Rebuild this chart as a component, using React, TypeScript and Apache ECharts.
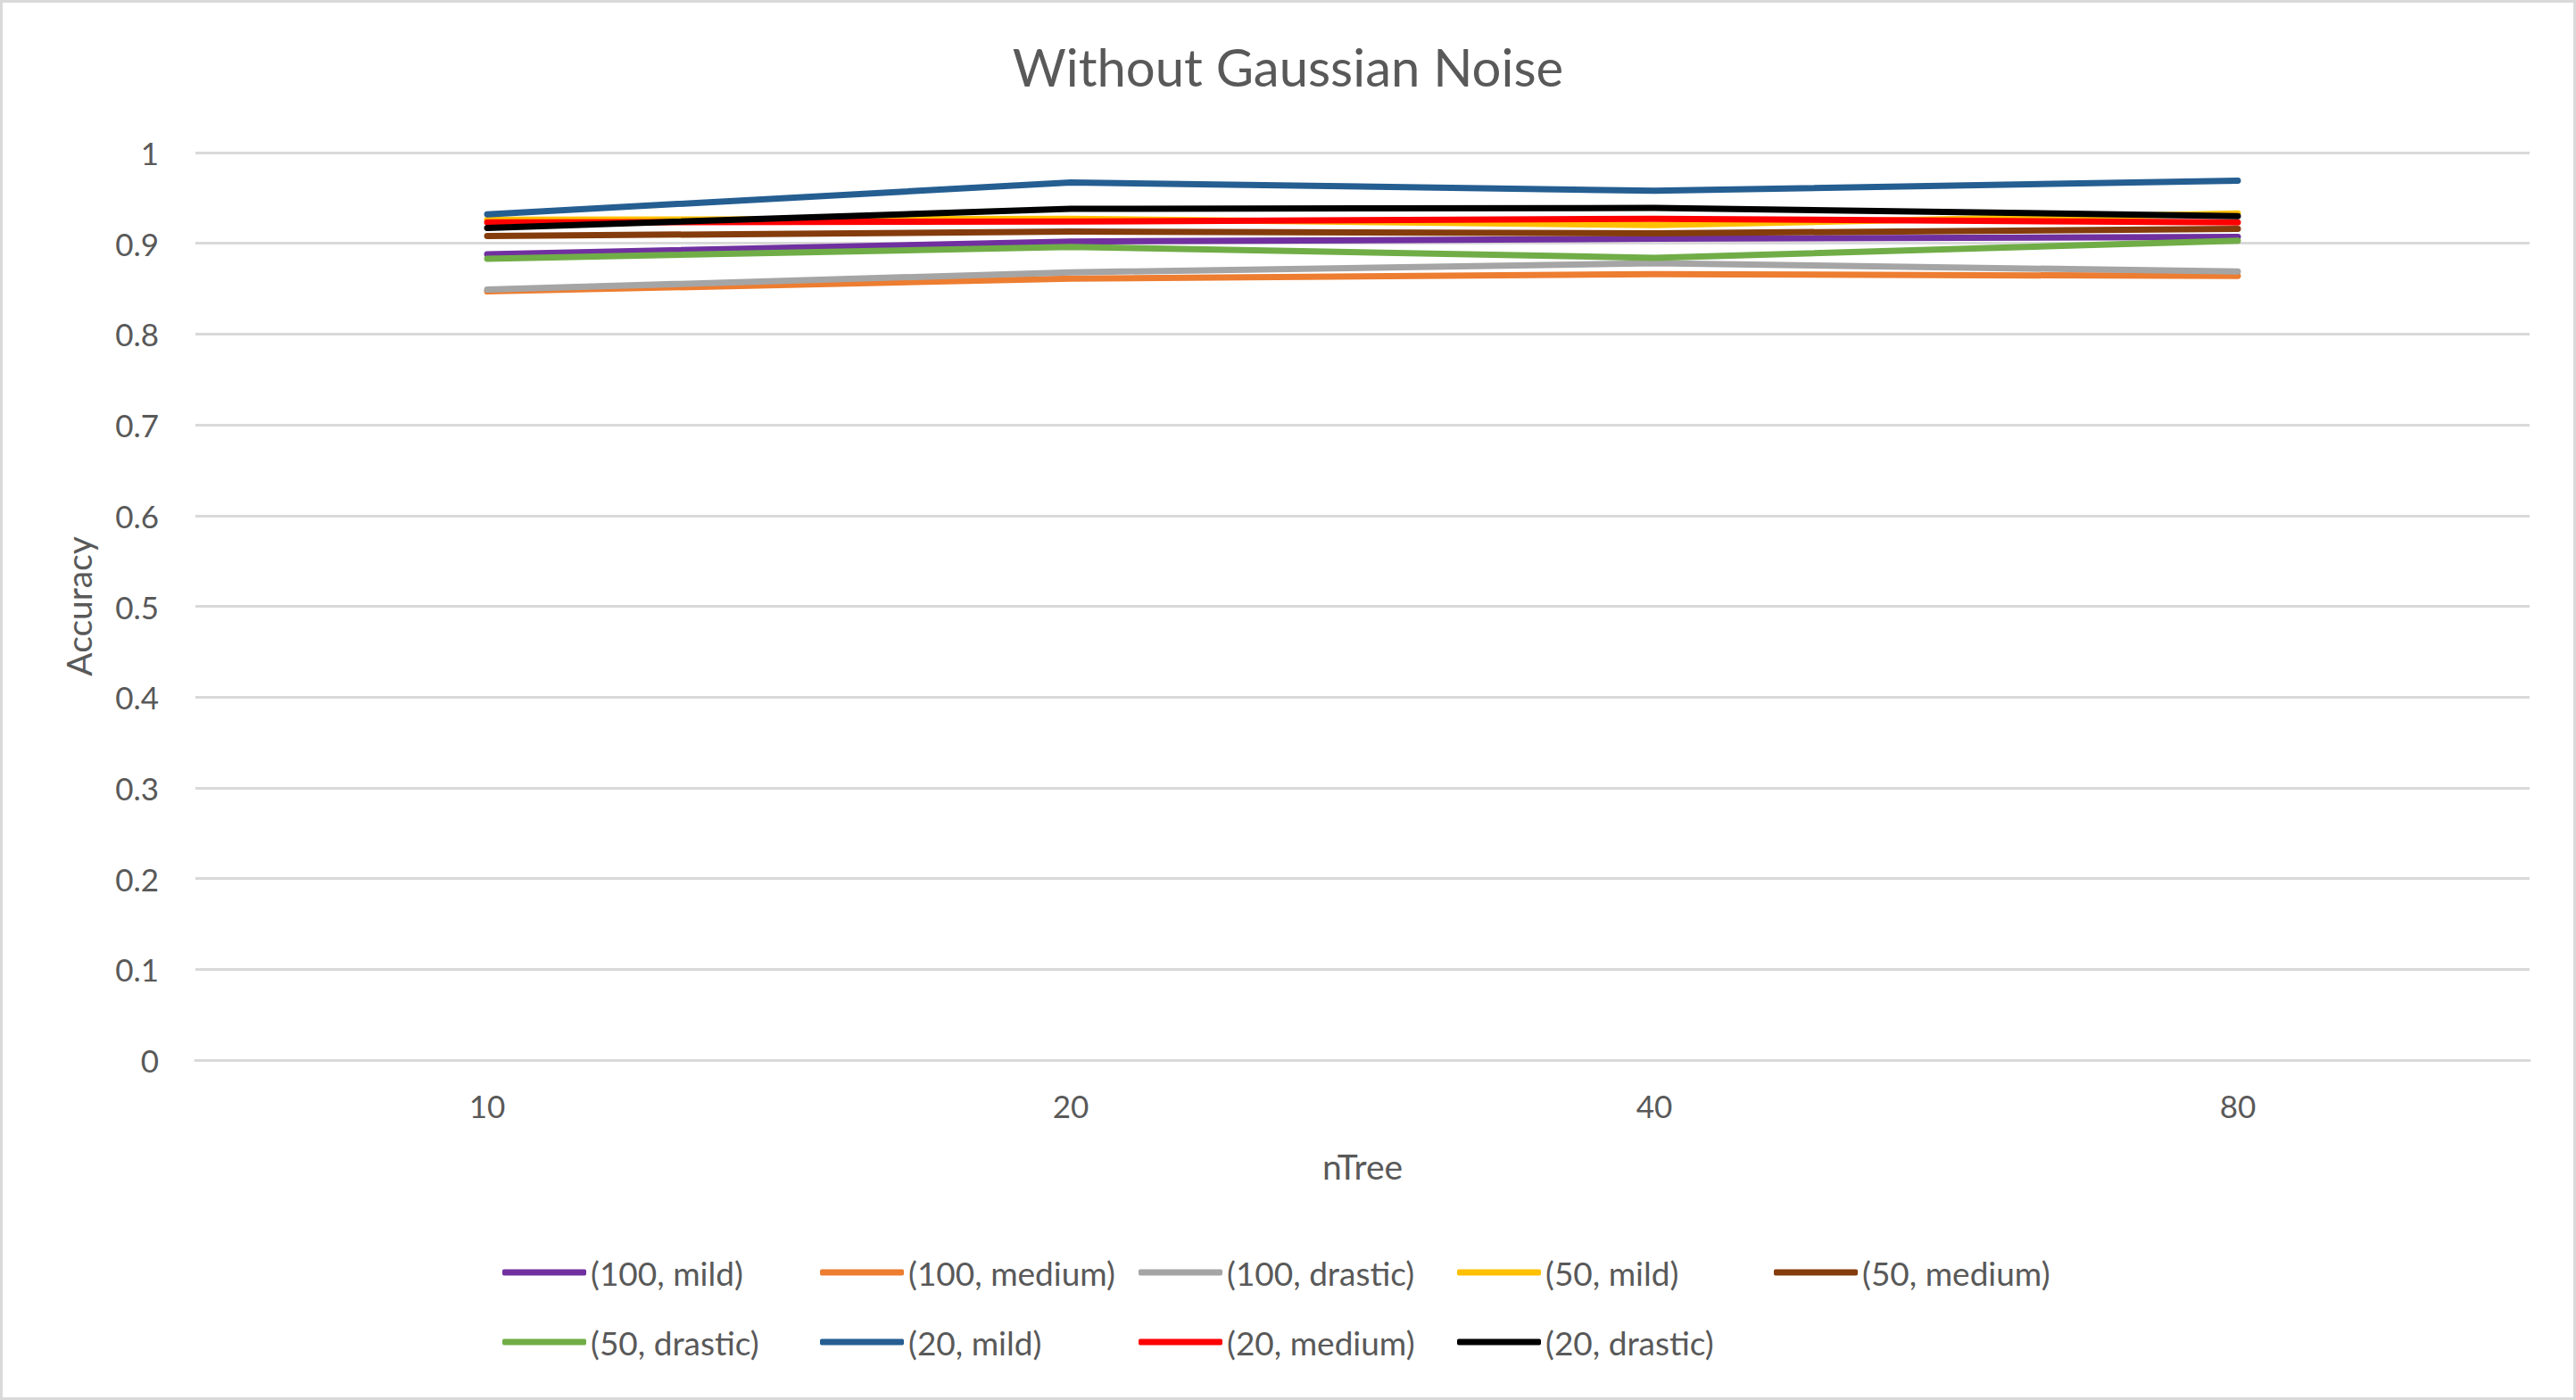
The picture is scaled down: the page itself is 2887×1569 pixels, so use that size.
import React, { useEffect, useRef } from "react";
import * as echarts from "echarts";

const categories = ["10", "20", "40", "80"];

const seriesNames = [
  "(100, mild)",
  "(100, medium)",
  "(100, drastic)",
  "(50, mild)",
  "(50, medium)",
  "(50, drastic)",
  "(20, mild)",
  "(20, medium)",
  "(20, drastic)",
];

const mild100 = [0.888, 0.902, 0.905, 0.907];
const medium100 = [0.847, 0.861, 0.866, 0.864];
const drastic100 = [0.849, 0.868, 0.878, 0.869];
const mild50 = [0.926, 0.927, 0.920, 0.933];
const medium50 = [0.908, 0.913, 0.911, 0.916];
const drastic50 = [0.883, 0.896, 0.884, 0.903];
const mild20 = [0.932, 0.967, 0.958, 0.969];
const medium20 = [0.923, 0.924, 0.927, 0.923];
const drastic20 = [0.917, 0.938, 0.939, 0.930];

const seriesValues = [
  mild100,
  medium100,
  drastic100,
  mild50,
  medium50,
  drastic50,
  mild20,
  medium20,
  drastic20,
];

const colors = [
  "#7030A0",
  "#ED7D31",
  "#A5A5A5",
  "#FFC000",
  "#843C0C",
  "#70AD47",
  "#255E91",
  "#FF0000",
  "#000000",
];

const FONT = "Lato";
const TEXT = "#595959";

export default function App() {
  const ref = useRef<HTMLDivElement>(null);

  useEffect(() => {
    document.body.style.margin = "0";
    if (!ref.current) return;
    const chart = echarts.init(ref.current, null, { renderer: "svg" });

    const colX = [563, 919, 1276, 1633, 1988];
    const rowTop = [1406, 1484];

    const legends = seriesNames.map((name, i) => ({
      data: [name],
      left: colX[i % 5],
      top: rowTop[Math.floor(i / 5)],
      padding: 0,
      icon: "roundRect",
      itemWidth: 94,
      itemHeight: 7,
      selectedMode: false,
      textStyle: {
        fontFamily: FONT,
        fontSize: 37,
        color: TEXT,
        lineHeight: 40,
      },
    }));

    chart.setOption({
      animation: false,
      backgroundColor: "#ffffff",
      title: {
        text: "Without Gaussian Noise",
        left: "center",
        top: 40,
        textStyle: {
          fontFamily: FONT,
          fontSize: 58,
          fontWeight: "normal",
          color: TEXT,
        },
      },
      legend: legends,
      grid: { left: 219, right: 52, top: 171, bottom: 381, containLabel: false },
      xAxis: {
        type: "category",
        data: categories,
        boundaryGap: true,
        name: "nTree",
        nameLocation: "middle",
        nameGap: 99,
        nameTextStyle: { fontFamily: FONT, fontSize: 39, color: TEXT },
        axisLine: { show: true, lineStyle: { color: "#D9D9D9", width: 3 } },
        axisTick: { show: false },
        axisLabel: { fontFamily: FONT, fontSize: 35, color: TEXT, margin: 33 },
      },
      yAxis: {
        type: "value",
        min: 0,
        max: 1,
        interval: 0.1,
        name: "Accuracy",
        nameLocation: "middle",
        nameGap: 112,
        nameTextStyle: { fontFamily: FONT, fontSize: 39, color: TEXT },
        axisLine: { show: false },
        axisTick: { show: false },
        axisLabel: {
          fontFamily: FONT,
          fontSize: 35,
          color: TEXT,
          margin: 41,
          formatter: (v: number) => String(Math.round(v * 10) / 10),
        },
        splitLine: { show: true, lineStyle: { color: "#D9D9D9", width: 3 } },
      },
      series: seriesNames.map((name, i) => ({
        name,
        type: "line",
        data: seriesValues[i],
        symbol: "none",
        color: colors[i],
        lineStyle: { width: 7, color: colors[i], cap: "round", join: "round" },
        z: 2 + i,
      })),
      graphic: [
        {
          type: "rect",
          shape: { x: 1.5, y: 1.5, width: 2884, height: 1566 },
          style: { fill: "none", stroke: "#D9D9D9", lineWidth: 3 },
          silent: true,
        },
      ],
    });

    return () => chart.dispose();
  }, []);

  return (
    <div
      ref={ref}
      style={{ position: "fixed", left: 0, top: 0, width: 2887, height: 1569 }}
    />
  );
}
